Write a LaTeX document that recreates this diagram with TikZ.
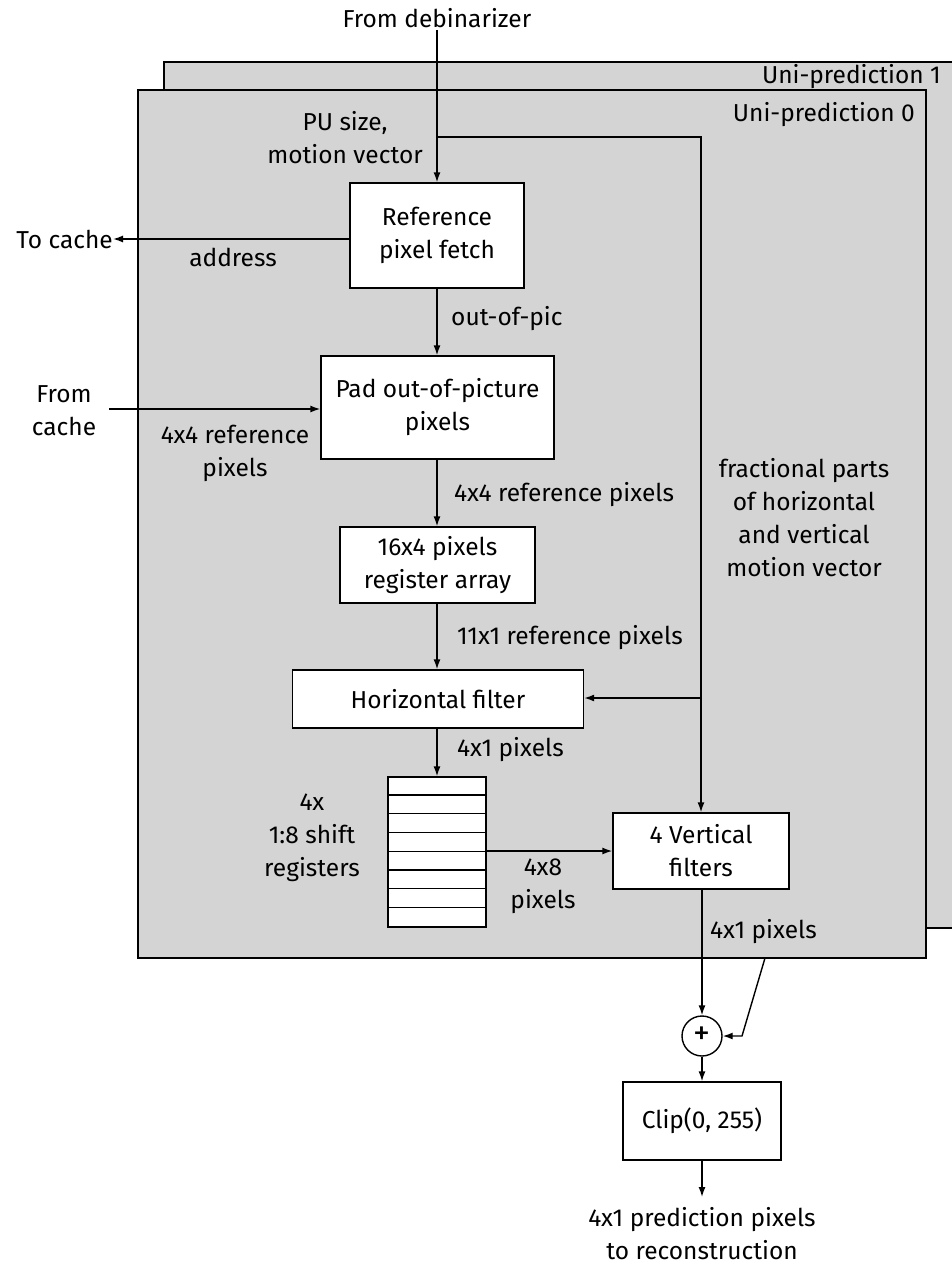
\documentclass[tikz,border=0pt]{standalone}
\usepackage{fontspec}
\setmainfont{Fira Sans}
\usetikzlibrary{arrows.meta}
\definecolor{panelgray}{RGB}{212,212,212}
\tikzset{
  txt/.style={font=\fontsize{24.5}{33}\selectfont, inner sep=0pt, align=center},
  blk/.style={draw, fill=white, line width=1.4pt, txt},
  wire/.style={line width=1.4pt},
  arr/.style={wire, -{Latex[length=10pt,width=7pt]}},
  panel/.style={draw, line width=1.6pt, fill=panelgray}
}
\begin{document}
\begin{tikzpicture}[x=1pt,y=-1pt]
\useasboundingbox (0,0) rectangle (951,1264);

% stacked uni-prediction panels
\draw[panel] (164,62) rectangle (975,928);
\draw[panel] (138,90) rectangle (926,958);
\node[txt, anchor=east] (up1) at (941,77) {Uni-prediction 1};
\node[txt, anchor=east] (up0) at (915,115) {Uni-prediction 0};

% processing blocks
\node[blk, minimum width=174pt, minimum height=105pt] (ref) at (437,235.5) {Reference\\pixel fetch};
\node[blk, minimum width=233pt, minimum height=103pt] (pad) at (437.5,407.5) {Pad out-of-picture\\pixels};
\node[blk, minimum width=195pt, minimum height=76pt] (reg) at (437.5,565) {16x4 pixels\\register array};
\node[blk, minimum width=291pt, minimum height=58pt] (hf) at (438,699) {Horizontal filter};
\node[draw, fill=white, line width=1.4pt, minimum width=98pt, minimum height=150pt, inner sep=0pt] (sr) at (437,852) {};
\foreach \i in {1,...,7}
  \draw[line width=1.2pt] ([yshift=-\i*18.75pt]sr.north west) -- ([yshift=-\i*18.75pt]sr.north east);
\node[blk, minimum width=176pt, minimum height=76pt] (vf) at (701,851) {4 Vertical\\filters};
\node[draw, circle, fill=white, line width=1.4pt, minimum size=40pt, inner sep=0pt, font=\fontsize{34}{34}\selectfont] (sum) at (702,1036) {+};
\node[blk, minimum width=158pt, minimum height=78pt] (clip) at (702,1121) {Clip(0, 255)};

% external labels
\node[txt] (deb) at (437,18) {From debinarizer};
\node[txt, anchor=east] (tocache) at (113,239) {To cache};
\node[txt] (fromcache) at (64,411) {From\\cache};
\node[txt] (outtxt) at (702,1234) {4x1 prediction pixels\\to reconstruction};

% signal labels
\node[txt] (lpu) at (345,138) {PU size,\\motion vector};
\node[txt] (laddr) at (233,257) {address};
\node[txt, anchor=west] (loop) at (451,319) {out-of-pic};
\node[txt] (lref4l) at (235,453) {4x4 reference\\pixels};
\node[txt, anchor=west] (lref4r) at (454,495) {4x4 reference pixels};
\node[txt, anchor=west] (l11) at (457,638) {11x1 reference pixels};
\node[txt, anchor=west] (l41a) at (457,750) {4x1 pixels};
\node[txt] (lsr) at (312,838) {4x\\1:8 shift\\registers};
\node[txt] (l48) at (543,886) {4x8\\pixels};
\node[txt, anchor=west] (l41b) at (710,932) {4x1 pixels};
\node[txt] (lfrac) at (804,518) {fractional parts\\of horizontal\\and vertical\\motion vector};

% junctions and free ends
\coordinate (debend) at (437,30);
\coordinate (br1) at (437,137);
\coordinate (br2) at (701,137);
\coordinate (br3) at (701,698);
\coordinate (fcin) at (109,409);
\coordinate (u1) at (765,958);
\coordinate (u2) at (742,1036);
\coordinate (outend) at (702,1197);

% connectors
\draw[arr] (debend) -- (ref.north);
\draw[wire] (br1) -- (br2) -- (br3);
\draw[arr] (br3) -- (vf.north -| br3);
\draw[arr] (br3) -- (hf.east |- br3);
\draw[arr] (ref.west |- tocache) -- (tocache.east);
\draw[arr] (fcin) -- (fcin -| pad.west);
\draw[arr] (ref.south) -- (ref.south |- pad.north);
\draw[arr] (pad.south -| ref.south) -- (reg.north -| ref.south);
\draw[arr] (reg.south -| ref.south) -- (hf.north -| ref.south);
\draw[arr] (hf.south -| ref.south) -- (sr.north);
\draw[arr] (sr.east |- vf.west) -- (vf.west);
\draw[arr] (vf.south -| sum.north) -- (sum.north);
\draw[arr] (u1) -- (u2) -- (sum.east);
\draw[arr] (sum.south) -- (clip.north -| sum.south);
\draw[arr] (clip.south -| sum.south) -- (outend);
\end{tikzpicture}
\end{document}
